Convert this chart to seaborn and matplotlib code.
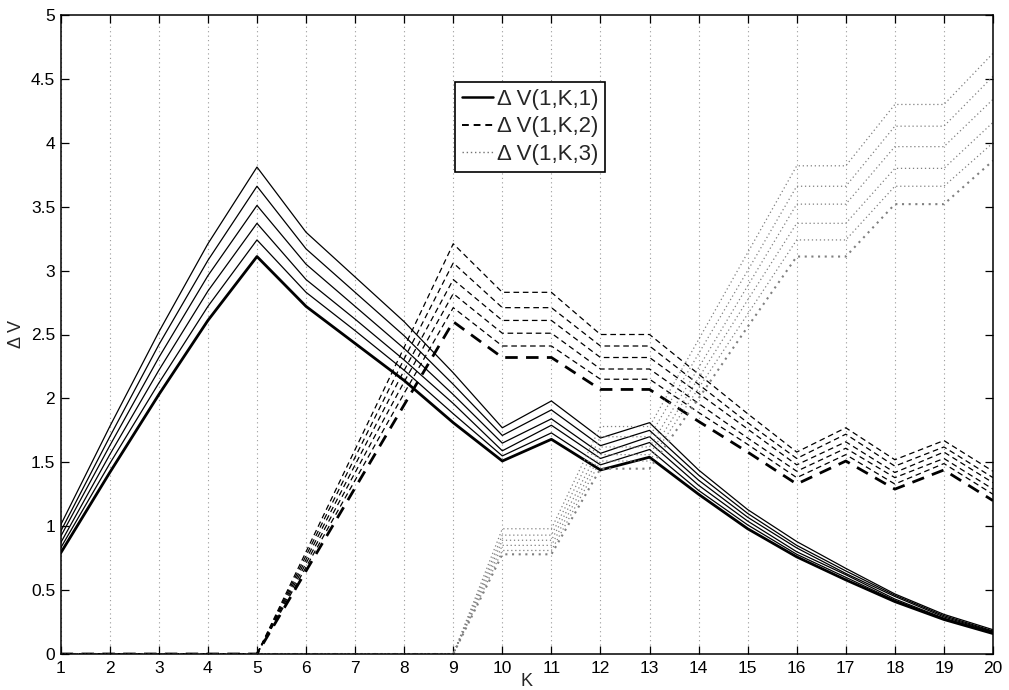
import numpy as np
import pandas as pd
import matplotlib
matplotlib.use("Agg")
import matplotlib.pyplot as plt
import seaborn as sns
from matplotlib.lines import Line2D

# ---------------- data ----------------
K = list(range(1, 21))
x_tick_labels = [str(k) for k in K]
y_ticks = [0, 0.5, 1, 1.5, 2, 2.5, 3, 3.5, 4, 4.5, 5]
y_tick_labels = ["0", "0.5", "1", "1.5", "2", "2.5", "3", "3.5", "4", "4.5", "5"]

# group 1: Delta V(1,K,1) (solid) - first row is the thick curve
dv1 = [
    [0.79, 1.42, 2.03, 2.61, 3.11, 2.72, 2.43, 2.14, 1.81, 1.51, 1.68, 1.44, 1.54, 1.25, 0.98, 0.76, 0.58, 0.41, 0.27, 0.16],
    [0.83, 1.49, 2.12, 2.72, 3.24, 2.83, 2.53, 2.22, 1.88, 1.55, 1.73, 1.48, 1.60, 1.28, 1.01, 0.78, 0.60, 0.42, 0.275, 0.165],
    [0.87, 1.56, 2.22, 2.84, 3.37, 2.93, 2.62, 2.30, 1.96, 1.59, 1.79, 1.53, 1.655, 1.32, 1.04, 0.80, 0.62, 0.43, 0.28, 0.17],
    [0.92, 1.63, 2.32, 2.96, 3.51, 3.05, 2.72, 2.39, 2.03, 1.65, 1.84, 1.57, 1.70, 1.36, 1.07, 0.83, 0.63, 0.45, 0.29, 0.175],
    [0.96, 1.70, 2.42, 3.08, 3.66, 3.17, 2.83, 2.49, 2.11, 1.71, 1.91, 1.63, 1.75, 1.40, 1.10, 0.85, 0.65, 0.46, 0.30, 0.18],
    [1.01, 1.78, 2.52, 3.21, 3.81, 3.30, 2.95, 2.60, 2.20, 1.77, 1.98, 1.69, 1.81, 1.44, 1.13, 0.88, 0.67, 0.47, 0.31, 0.19],
]

# group 2: Delta V(1,K,2) (dashed)
dv2 = [
    [0, 0, 0, 0, 0, 0.65, 1.30, 1.95, 2.60, 2.32, 2.32, 2.07, 2.07, 1.82, 1.58, 1.33, 1.51, 1.29, 1.44, 1.20],
    [0, 0, 0, 0, 0, 0.68, 1.36, 2.04, 2.71, 2.41, 2.41, 2.15, 2.15, 1.89, 1.64, 1.38, 1.56, 1.33, 1.49, 1.25],
    [0, 0, 0, 0, 0, 0.71, 1.42, 2.13, 2.82, 2.51, 2.51, 2.23, 2.23, 1.96, 1.69, 1.43, 1.61, 1.38, 1.53, 1.29],
    [0, 0, 0, 0, 0, 0.74, 1.48, 2.22, 2.93, 2.61, 2.61, 2.32, 2.32, 2.04, 1.76, 1.48, 1.66, 1.42, 1.58, 1.34],
    [0, 0, 0, 0, 0, 0.77, 1.54, 2.31, 3.06, 2.71, 2.71, 2.41, 2.41, 2.11, 1.81, 1.53, 1.72, 1.47, 1.62, 1.38],
    [0, 0, 0, 0, 0, 0.80, 1.60, 2.40, 3.21, 2.83, 2.83, 2.50, 2.50, 2.19, 1.88, 1.58, 1.77, 1.52, 1.67, 1.43],
]

# group 3: Delta V(1,K,3) (dotted)
dv3 = [
    [0, 0, 0, 0, 0, 0, 0, 0, 0, 0.78, 0.78, 1.45, 1.45, 2.00, 2.56, 3.11, 3.11, 3.52, 3.52, 3.86],
    [0, 0, 0, 0, 0, 0, 0, 0, 0, 0.81, 0.81, 1.51, 1.51, 2.08, 2.66, 3.24, 3.24, 3.66, 3.66, 4.00],
    [0, 0, 0, 0, 0, 0, 0, 0, 0, 0.85, 0.85, 1.56, 1.56, 2.16, 2.77, 3.37, 3.37, 3.80, 3.80, 4.16],
    [0, 0, 0, 0, 0, 0, 0, 0, 0, 0.89, 0.89, 1.62, 1.62, 2.24, 2.88, 3.52, 3.52, 3.97, 3.97, 4.34],
    [0, 0, 0, 0, 0, 0, 0, 0, 0, 0.93, 0.93, 1.70, 1.70, 2.35, 3.00, 3.66, 3.66, 4.13, 4.13, 4.52],
    [0, 0, 0, 0, 0, 0, 0, 0, 0, 0.98, 0.98, 1.78, 1.78, 2.46, 3.14, 3.82, 3.82, 4.30, 4.30, 4.70],
]

legend_labels = ["\u0394 V(1,K,1)", "\u0394 V(1,K,2)", "\u0394 V(1,K,3)"]

# ---------------- style ----------------
sns.set_style("ticks")
plt.rcParams["font.family"] = ["Liberation Sans", "DejaVu Sans"]

W, H = 1009, 690
fig = plt.figure(figsize=(W / 100, H / 100), dpi=100)
ax = fig.add_axes([60.7 / W, 36 / H, (993 - 60.7) / W, (654 - 15) / H])

solid_style = "-"
dash_style = (0, (4.5, 3.0))
dot_style = (0, (1, 2.2))

groups = [
    (dv1, solid_style, "black", 2.0, 0.9),
    (dv2, dash_style, "black", 2.0, 0.9),
    (dv3, dot_style, "0.5", 1.5, 0.9),
]

for data, ls, col, lw_thick, lw_thin in groups:
    for i, row in enumerate(data):
        df = pd.DataFrame({"K": K, "dV": row})
        sns.lineplot(data=df, x="K", y="dV", ax=ax, color=col,
                     linewidth=lw_thick if i == 0 else lw_thin,
                     linestyle=ls, legend=False)

ax.set_xlim(1, 20)
ax.set_ylim(0, 5)
ax.set_xticks(K)
ax.set_xticklabels(x_tick_labels)
ax.set_yticks(y_ticks)
ax.set_yticklabels(y_tick_labels)

ax.tick_params(direction="in", length=6, width=0.9, top=True, right=True,
               labelsize=12.5, pad=4, colors="black")
ax.tick_params(axis="x", pad=5)
for sp in ax.spines.values():
    sp.set_visible(True)
    sp.set_linewidth(1.1)
    sp.set_color("black")

ax.xaxis.grid(True, linestyle=(0, (1, 3)), color="0.6", linewidth=0.8)
ax.yaxis.grid(False)
ax.set_axisbelow(True)

ax.set_xlabel("K", fontsize=13, labelpad=-2)
ax.set_ylabel("\u0394 V", fontsize=13, labelpad=4)

handles = [
    Line2D([], [], color="black", linewidth=1.8, linestyle=solid_style),
    Line2D([], [], color="black", linewidth=1.4, linestyle=(0, (3.5, 2.5))),
    Line2D([], [], color="0.45", linewidth=1.0, linestyle=(0, (1, 2))),
]
leg = ax.legend(handles, legend_labels, loc="upper left",
                bbox_to_anchor=((455 - 60.7) / (993 - 60.7), (654 - 82) / (654 - 15)),
                fontsize=16, frameon=True, fancybox=False, shadow=False,
                handlelength=1.4, handletextpad=0.2, borderpad=0.3,
                labelspacing=0.3, borderaxespad=0)
leg.get_frame().set_edgecolor("black")
leg.get_frame().set_linewidth(1.2)
leg.get_frame().set_alpha(1)

fig.savefig("out.png", dpi=100)
